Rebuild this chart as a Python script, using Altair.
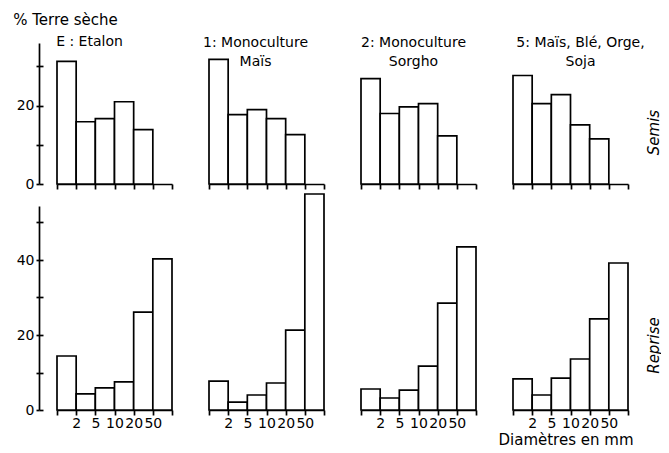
import altair as alt
import pandas as pd

FONT = "DejaVu Sans"
NB = "\u00a0"

# Size classes (mm) – bin edges labels
edge_labels = ["", "2", "5", "10", "20", "50", ""]

panel_titles = [
    ["E : Etalon"],
    ["1: Monoculture", "Maïs"],
    ["2: Monoculture", "Sorgho"],
    ["5: Maïs, Blé, Orge,", "Soja" + NB * 5],
]
title_dx = [-25, -11, -5, 10]
title_offset = [-6, -26, -26, -26]

# % Terre sèche – Semis (5 classes)
semis_E = [31.3, 15.9, 16.7, 21.0, 13.9]
semis_1 = [31.8, 17.7, 19.0, 16.7, 12.6]
semis_2 = [26.9, 18.0, 19.7, 20.5, 12.3]
semis_5 = [27.7, 20.5, 22.8, 15.1, 11.5]

# % Terre sèche – Reprise (6 classes)
reprise_E = [14.4, 4.3, 5.9, 7.5, 26.1, 40.3]
reprise_1 = [7.7, 2.1, 4.0, 7.2, 21.3, 57.6]
reprise_2 = [5.6, 3.2, 5.3, 11.7, 28.5, 43.5]
reprise_5 = [8.3, 4.0, 8.5, 13.6, 24.3, 39.2]

semis = [semis_E, semis_1, semis_2, semis_5]
reprise = [reprise_E, reprise_1, reprise_2, reprise_5]

label_expr = "[" + ",".join("'%s'" % s for s in edge_labels) + "][datum.value]"

W = 115
H_TOP, YMAX_TOP = 141, 36
H_BOT, YMAX_BOT = 204, 54.4
LW = 1.7
YOFF = 18


def x_axis(with_labels, title=None):
    kw = dict(values=list(range(7)), grid=False, domainColor="black", domainWidth=LW,
              tickColor="black", tickWidth=LW, tickSize=5, labelOverlap=False,
              labelFlush=False, labelFont=FONT, labelFontSize=14, labelColor="black",
              labelPadding=1, labels=with_labels, labelExpr=label_expr)
    if title:
        kw.update(title=title, titleFont=FONT, titleFontSize=15, titleFontWeight="normal",
                  titleColor="black", titleAlign="right", titleAnchor="end", titleX=W + 5,
                  titleY=34, titleBaseline="alphabetic")
    else:
        kw.update(title=None)
    return alt.Axis(**kw)


def y_axis_left(vals):
    return alt.Axis(values=vals, grid=False, domainColor="black", domainWidth=LW,
                    tickColor="black", tickWidth=LW, tickSize=3, offset=YOFF,
                    labelExpr="datum.value % 20 == 0 ? datum.label : ''",
                    labelFont=FONT, labelFontSize=14, labelColor="black", labelPadding=2,
                    title=None)


def y_axis_inner(vals):
    # inward half of the crossing ticks on the left axis
    return alt.Axis(values=vals, orient="right", offset=-(W + YOFF), grid=False,
                    domain=False, labels=False, tickColor="black", tickWidth=LW,
                    tickSize=4, title=None)


def y_axis_right(text, ty):
    return alt.Axis(orient="right", labels=False, ticks=False, domain=False, grid=False,
                    title=text, titleAngle=270, titleFont=FONT, titleFontStyle="italic",
                    titleFontSize=15, titleFontWeight="normal", titleColor="black",
                    titleX=25, titleY=ty, titleAlign="center", titleBaseline="middle")


def panel(vals, i, top):
    n = len(vals)
    df = pd.DataFrame({"lo": list(range(n)), "hi": list(range(1, n + 1)), "v": vals,
                       "z": [0] * n})
    h, ymax = (H_TOP, YMAX_TOP) if top else (H_BOT, YMAX_BOT)
    ticks = [0, 10, 20, 30] if top else [0, 10, 20, 30, 40, 50]
    if i == 0:
        yax = y_axis_left(ticks)
    elif i == 3:
        yax = y_axis_right("Semis" if top else "Reprise", 89 if top else 139)
    else:
        yax = None
    xax = x_axis(not top, "Diamètres en mm" if (not top and i == 3) else None)
    xenc = alt.X("lo:Q", scale=alt.Scale(domain=[0, 6], nice=False, zero=False), axis=xax)
    yscale = alt.Scale(domain=[0, ymax], nice=False)
    ch = alt.Chart(df).mark_bar(fill="white", stroke="black", strokeWidth=LW).encode(
        x=xenc,
        x2="hi:Q",
        y=alt.Y("v:Q", scale=yscale, axis=yax),
        y2="z:Q",
    )
    if i == 0:
        inner = alt.Chart(df).mark_bar(opacity=0).encode(
            x=xenc,
            x2="hi:Q",
            y=alt.Y("v:Q", scale=yscale, axis=y_axis_inner(ticks)),
            y2="z:Q",
        )
        ch = alt.layer(ch, inner).resolve_axis(y="independent")
    props = dict(width=W, height=h)
    if top:
        props["title"] = alt.TitleParams(
            panel_titles[i], anchor="middle", dx=title_dx[i], offset=title_offset[i],
            lineHeight=19, font=FONT, fontSize=14, fontWeight="normal", color="black",
            align="center")
    return ch.properties(**props)


panels = [panel(semis[i], i, True) for i in range(4)] + \
         [panel(reprise[i], i, False) for i in range(4)]

chart = alt.concat(*panels, columns=4, spacing={"row": 22, "column": 37},
                   bounds="flush").resolve_scale(
    x="independent", y="independent"
).properties(
    title=alt.TitleParams("% Terre sèche", anchor="start", dx=-3, offset=7, font=FONT,
                          fontSize=15, fontWeight="normal", color="black"),
    background="white",
    padding={"left": 5, "top": 5, "right": 0, "bottom": 0},
).configure_view(stroke=None)

chart.save("out.html", embed_options={"renderer": "svg", "actions": False})
